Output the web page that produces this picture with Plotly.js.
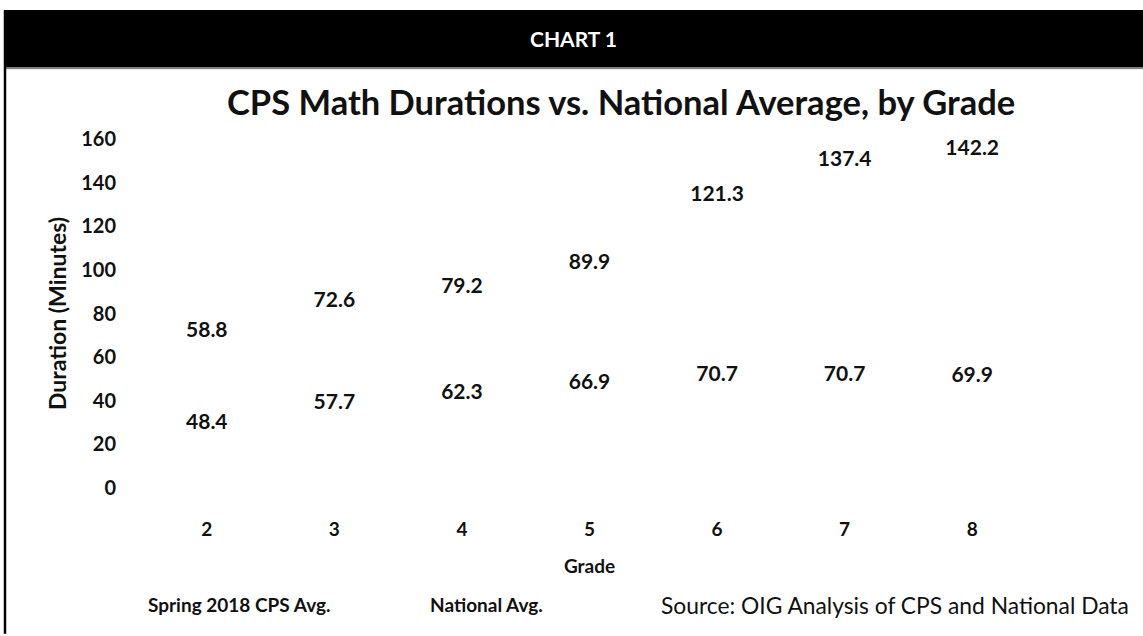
<!DOCTYPE html>
<html>
<head>
<meta charset="utf-8">
<script src="https://cdn.plot.ly/plotly-3.0.1.min.js"></script>
<style>
  html, body { margin: 0; padding: 0; background: #ffffff; }
  #chart { width: 1143px; height: 636px; }
</style>
</head>
<body>
<div id="chart"></div>
<script>
(function () {
  "use strict";

  // Data
  var grades = ["2", "3", "4", "5", "6", "7", "8"];
  var cpsAvg = [58.8, 72.6, 79.2, 89.9, 121.3, 137.4, 142.2];
  var nationalAvg = [48.4, 57.7, 62.3, 66.9, 70.7, 70.7, 69.9];
  var yTicks = [0, 20, 40, 60, 80, 100, 120, 140, 160];

  var FONT = "Lato, 'Open Sans', sans-serif";
  var TEXT = "#111111";

  var W = 1143, H = 636;
  var M = { l: 143, r: 107, t: 139, b: 145 };
  var plotW = W - M.l - M.r;
  var plotH = H - M.t - M.b;

  // pixel -> paper coords, for the frame pieces drawn outside the plot
  function px(x) { return (x - M.l) / plotW; }
  function py(y) { return (H - M.b - y) / plotH; }

  // Marks are invisible in the reference; only the data labels show.
  // The (transparent) marker size sets how far each label sits off its point.
  var clear = "rgba(0,0,0,0)";
  function series(name, vals, pos, gap) {
    return {
      type: "scatter",
      mode: "lines+markers+text",
      name: name,
      x: grades,
      y: vals,
      text: vals.map(function (v) { return v.toFixed(1); }),
      textposition: pos,
      textfont: { family: FONT, size: 21, color: TEXT, weight: "bold" },
      line: { color: clear, width: 2 },
      marker: { color: clear, size: gap },
      cliponaxis: false,
      hoverinfo: "skip"
    };
  }

  var traces = [
    series("Spring 2018 CPS Avg.", cpsAvg, "top center", 26),
    series("National Avg.", nationalAvg, "bottom center", 48)
  ];

  var layout = {
    width: W,
    height: H,
    margin: M,
    paper_bgcolor: "#ffffff",
    plot_bgcolor: "#ffffff",
    font: { family: FONT, color: TEXT },
    showlegend: true,
    legend: {
      orientation: "h",
      x: px(108),
      xanchor: "left",
      y: py(609),
      yanchor: "middle",
      entrywidth: 237,
      font: { family: FONT, size: 19, color: TEXT, weight: "bold" },
      bgcolor: clear
    },
    xaxis: {
      type: "category",
      range: [-0.5, grades.length - 0.5],
      showgrid: false,
      zeroline: false,
      showline: false,
      ticks: "",
      ticklabelstandoff: 28,
      tickfont: { family: FONT, size: 19, color: TEXT, weight: "bold" },
      title: {
        text: "Grade",
        font: { family: FONT, size: 19, color: TEXT, weight: "bold" },
        standoff: 20
      }
    },
    yaxis: {
      range: [0, 160],
      tickvals: yTicks,
      showgrid: false,
      zeroline: false,
      showline: false,
      ticks: "",
      ticklabelstandoff: 26,
      tickfont: { family: FONT, size: 20, color: TEXT, weight: "bold" },
      title: {
        text: "Duration (Minutes)",
        font: { family: FONT, size: 23, color: TEXT, weight: "bold" },
        standoff: 8
      }
    },
    shapes: [
      // black header band
      {
        type: "rect", xref: "paper", yref: "paper", layer: "below",
        x0: px(5), x1: px(W + 2), y0: py(67), y1: py(9),
        fillcolor: "#000000", line: { width: 0 }
      },
      // grey rule under the band
      {
        type: "line", xref: "paper", yref: "paper",
        x0: px(5), x1: px(W), y0: py(68), y1: py(68),
        line: { color: "#777777", width: 1 }
      },
      // left frame line
      {
        type: "line", xref: "paper", yref: "paper",
        x0: px(5), x1: px(5), y0: py(9), y1: py(H + 2),
        line: { color: "#000000", width: 2.5 }
      }
    ],
    annotations: [
      {
        xref: "paper", yref: "paper", x: px(573), y: py(38),
        xanchor: "center", yanchor: "middle",
        text: "CHART 1", showarrow: false,
        font: { family: FONT, size: 21, color: "#ffffff", weight: "bold" }
      },
      {
        xref: "paper", yref: "paper", x: px(621), y: py(101),
        xanchor: "center", yanchor: "middle",
        text: "CPS Math Durations vs. National Average, by Grade", showarrow: false,
        font: { family: FONT, size: 34.5, color: TEXT, weight: "bold" }
      },
      {
        xref: "paper", yref: "paper", x: px(1131), y: py(609),
        xanchor: "right", yanchor: "middle",
        text: "Source: OIG Analysis of CPS and National Data", showarrow: false,
        font: { family: FONT, size: 22.8, color: TEXT }
      }
    ]
  };

  Plotly.newPlot("chart", traces, layout, { displayModeBar: false, staticPlot: true });
})();
</script>
</body>
</html>
